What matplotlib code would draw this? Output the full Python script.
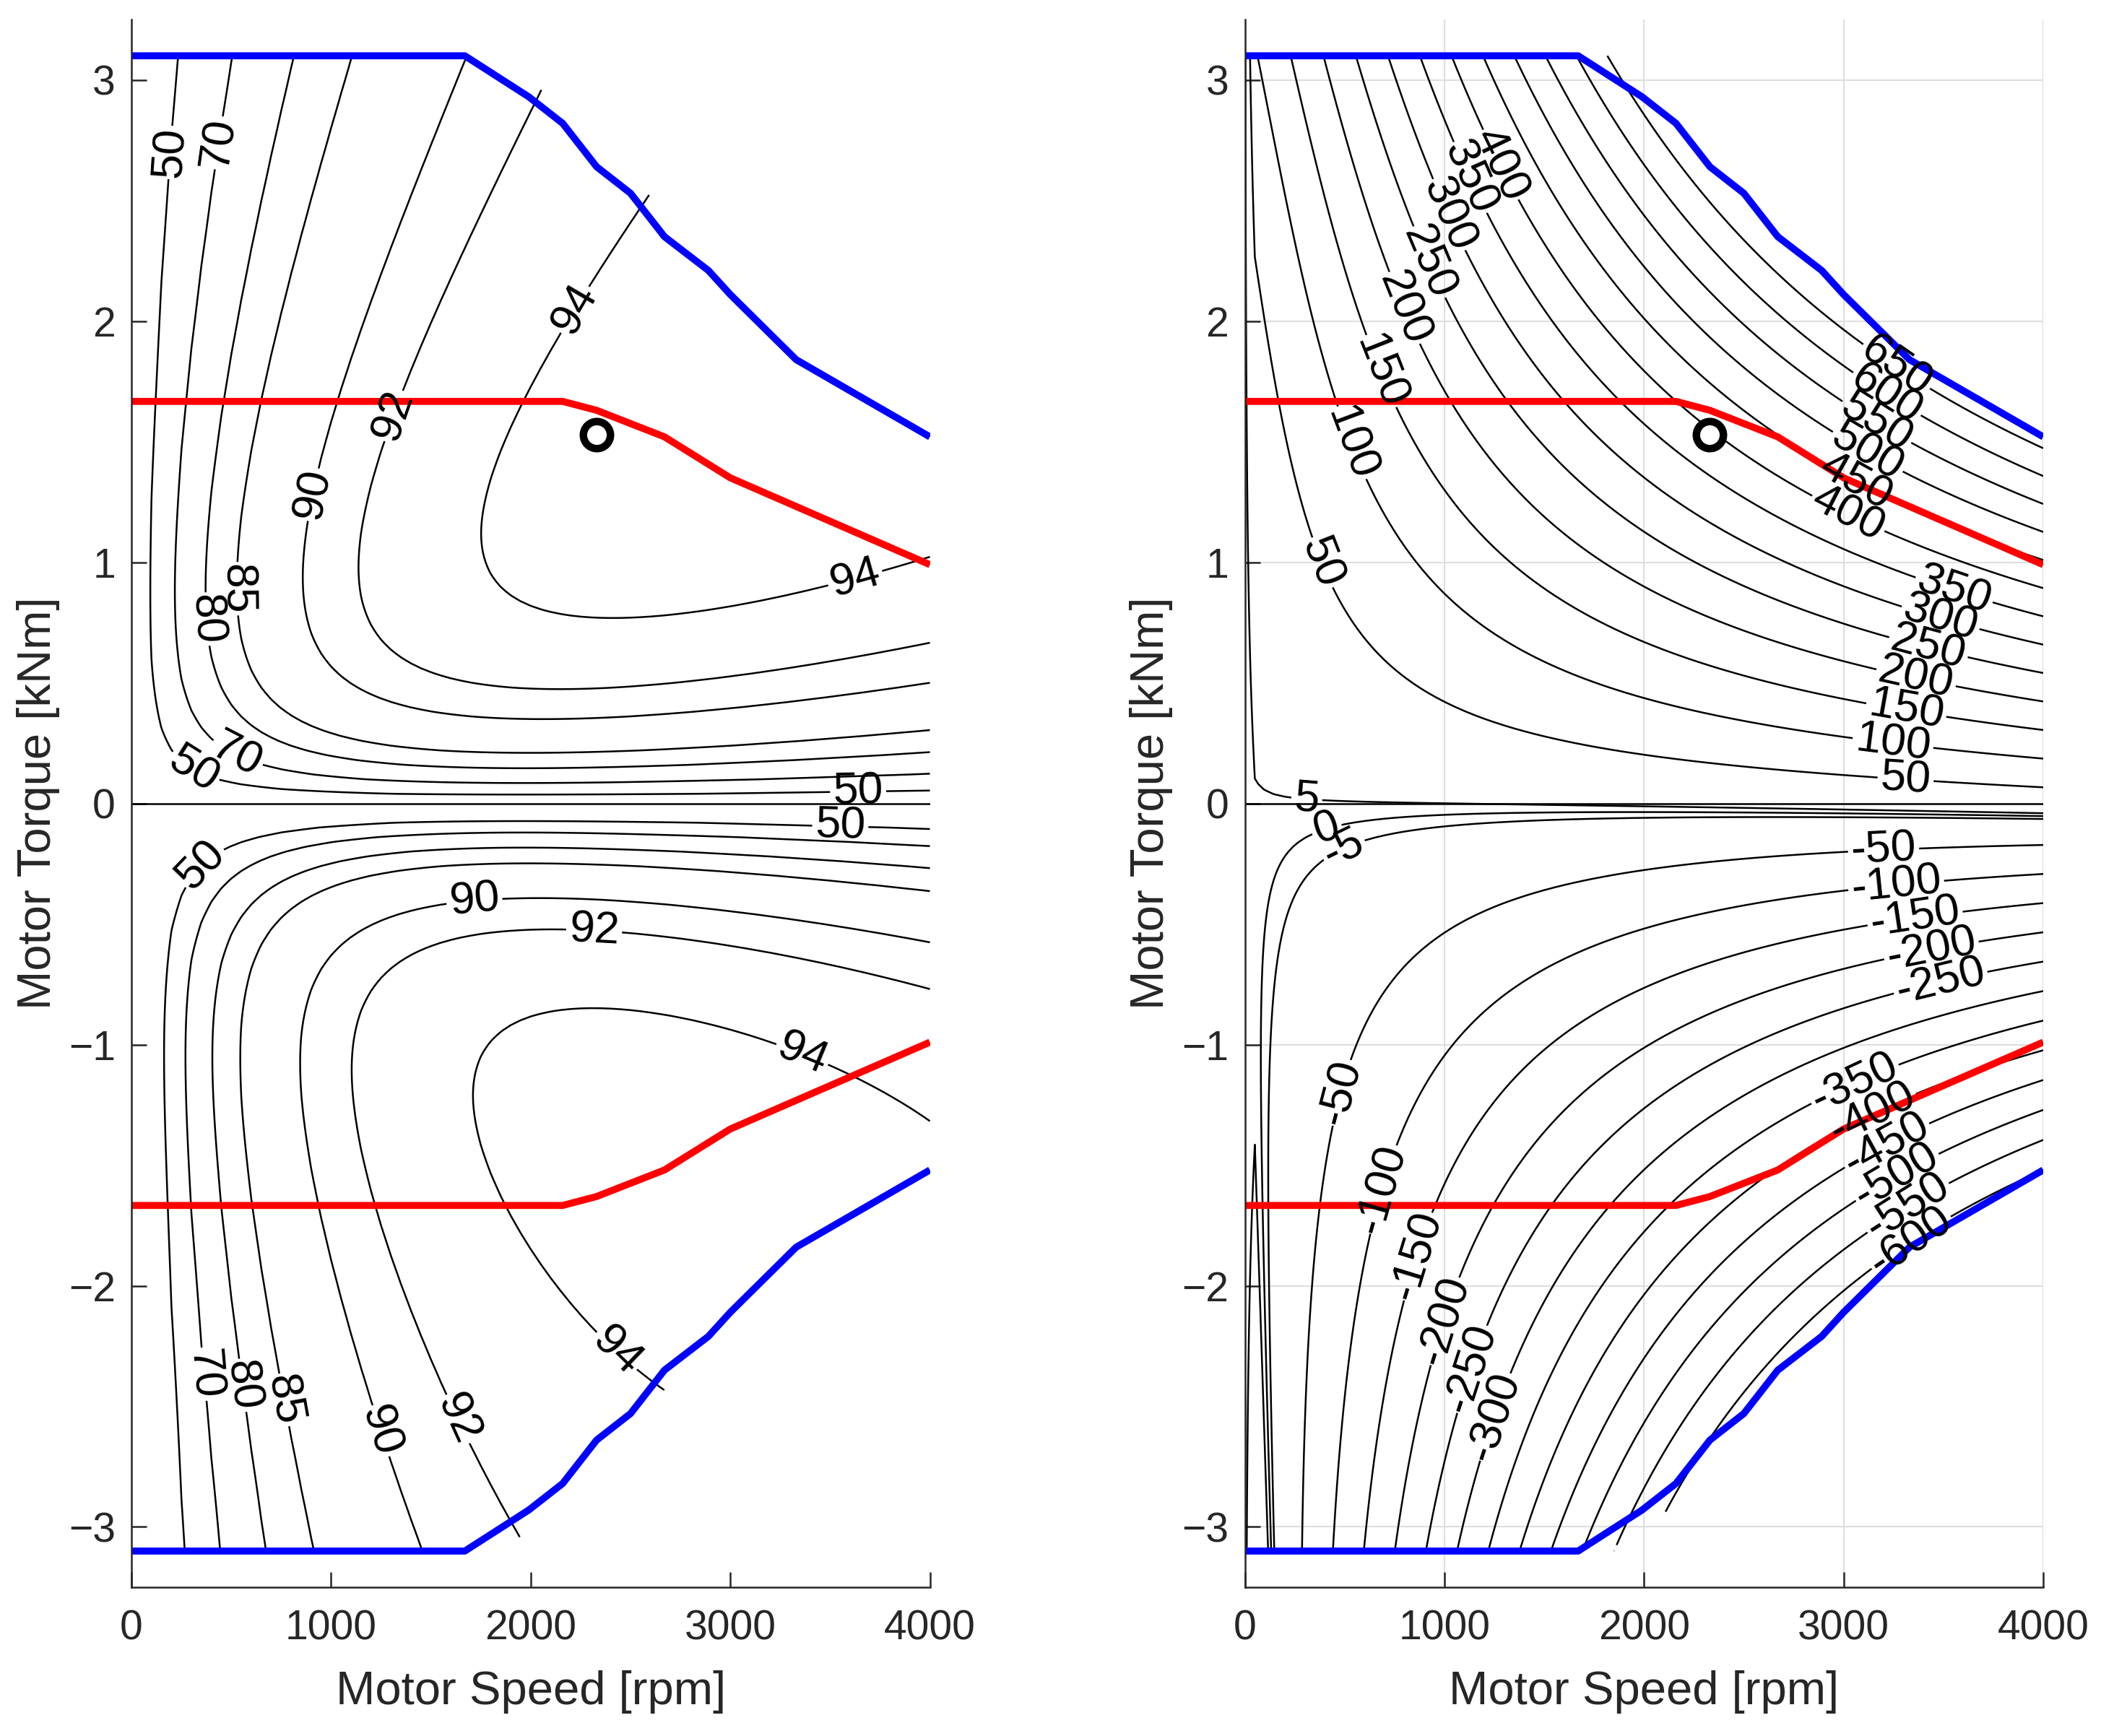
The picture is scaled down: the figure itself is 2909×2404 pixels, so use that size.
import numpy as np
import matplotlib
matplotlib.use("Agg")
import matplotlib.pyplot as plt

plt.rcParams['font.family'] = ['Liberation Sans', 'DejaVu Sans']

# Max torque envelope (blue), motoring side; generating side is mirrored
max_speed = [0, 1670, 1990, 2160, 2330, 2500, 2670, 2890, 3000, 3330, 4000]
max_torque = [3.10, 3.10, 2.93, 2.82, 2.64, 2.53, 2.35, 2.21, 2.11, 1.84, 1.52]

# Rated torque curve (red)
rated_speed = [0, 2160, 2330, 2670, 3000, 4000]
rated_torque = [1.667, 1.667, 1.63, 1.52, 1.35, 0.99]

# Operating point
op_speed = 2330
op_torque = 1.53

# Loss model (kW, torque in kNm, speed in krpm)
iron_const = 4.4      # speed independent loss
iron_coef = 0.55      # times krpm^2.5
cu_mot = 5.1          # per kNm^2, motoring
cu_mot4 = 0.3         # per kNm^4 at standstill, fades with speed
cu_gen = 4.0          # per kNm^2, generating
cu_gen_speed = 0.15   # per kNm^2 per krpm^2, generating

eff_levels = [50, 70, 80, 85, 90, 92, 94]
pow_levels = [-600, -550, -500, -450, -400, -350, -300, -250, -200, -150, -100, -50,
              -5, 0, 5, 50, 100, 150, 200, 250, 300, 350, 400, 450, 500, 550, 600, 650]

# contour label placement (speed, torque)
eff_label_pos = {
    50: [(178, 2.70), (293, 0.114), (3640, 0.063), (3550, -0.123), (293, -0.216)],
    70: [(427, 2.74), (499, 0.153), (459, -2.36)],
    80: [(287, 0.76), (677, -2.40)],
    85: [(490, 0.89), (927, -2.45)],
    90: [(911, 1.28), (1722, -0.44), (1426, -2.56)],
    92: [(1301, 1.61), (2315, -0.56), (1785, -2.50)],
    94: [(2237, 2.04), (3641, 0.89), (3438, -0.89), (2580, -2.15)],
}
pow_label_pos = {
    650: [(3290, 1.84)], 600: [(3244, 1.73)], 550: [(3197, 1.62)],
    500: [(3160, 1.51)], 450: [(3110, 1.40)],
    400: [(1286, 2.65), (3080, 1.29)],
    350: [(1114, 2.59), (3560, 0.90)],
    300: [(1020, 2.44), (3482, 0.76)],
    250: [(910, 2.24), (3419, 0.63)],
    200: [(753, 2.04), (3357, 0.50)],
    150: [(643, 1.78), (3310, 0.37)],
    100: [(518, 1.49), (3247, 0.25)],
    50: [(376, 0.995), (3310, 0.095)],
    5: [(314, 0.06)], 0: [(380, -0.03)], -5: [(470, -0.15)],
    -50: [(486, -1.2), (3200, -0.19)],
    -100: [(690, -1.6), (3262, -0.33)],
    -150: [(831, -1.87), (3357, -0.47)],
    -200: [(972, -2.14), (3435, -0.59)],
    -250: [(1114, -2.34), (3482, -0.73)],
    -300: [(1239, -2.54)],
    -350: [(3043, -1.14)], -400: [(3121, -1.25)], -450: [(3184, -1.37)],
    -500: [(3231, -1.50)], -550: [(3278, -1.62)], -600: [(3294, -1.77)],
}

# map grid
speed = np.arange(0, 4001, 50)
torque = np.linspace(-3.1, 3.1, 311)
N, T = np.meshgrid(speed, torque)
k = N / 1000.0
p_mech = T * N * np.pi / 30.0
cu_loss = np.where(T >= 0,
                   cu_mot * T**2 + cu_mot4 * np.exp(-k) * T**4,
                   (cu_gen + cu_gen_speed * k**2) * T**2)
loss = iron_const + iron_coef * k**2.5 + cu_loss
p_elec = p_mech + loss
with np.errstate(divide='ignore', invalid='ignore'):
    eff = np.where(T > 0, 100 * p_mech / p_elec, 100 * p_elec / p_mech)
eff[(T == 0) | (N == 0)] = 0
p_elec[N == 0] = 0

limit = np.minimum(np.interp(N, max_speed, max_torque) + 0.1, 3.1)
outside = np.abs(T) > limit + 1e-9
eff = np.ma.array(eff, mask=outside)
p_elec = np.ma.array(p_elec, mask=outside)

GRAY = '#262626'
fig = plt.figure(figsize=(29.09, 24.04), dpi=100)
ax1 = fig.add_axes([0.0626, 0.0857, 0.380, 0.903])
ax2 = fig.add_axes([0.5925, 0.0857, 0.380, 0.903])


def draw_panel(ax, field, levels, label_pos, grid):
    # one contour set per level so each label lands on its own line
    for lvl in levels:
        cs = ax.contour(N, T, field, levels=[lvl], colors='k',
                        linewidths=1.8, linestyles='solid')
        if lvl in label_pos:
            ax.clabel(cs, manual=label_pos[lvl], fmt='%d', fontsize=45,
                      inline=True, inline_spacing=4)
    ax.axhline(0, color='k', lw=1.8)
    speeds = np.array(max_speed)
    ax.plot(speeds, max_torque, color='#0000ff', lw=7, solid_capstyle='butt')
    ax.plot(speeds, -np.array(max_torque), color='#0000ff', lw=7, solid_capstyle='butt')
    ax.plot(rated_speed, rated_torque, color='#ff0000', lw=7, solid_capstyle='butt')
    ax.plot(rated_speed, -np.array(rated_torque), color='#ff0000', lw=7, solid_capstyle='butt')
    ax.plot(op_speed, op_torque, 'o', ms=27, mfc='white', mec='k', mew=7.5)
    ax.set_xlim(0, 4000)
    ax.set_ylim(-3.25, 3.25)
    ax.set_xticks([0, 1000, 2000, 3000, 4000])
    ax.set_yticks([-3, -2, -1, 0, 1, 2, 3])
    ax.set_yticklabels(['\u22123', '\u22122', '\u22121', '0', '1', '2', '3'])
    ax.tick_params(direction='in', length=15, width=1.8, colors=GRAY,
                   labelsize=41, top=False, right=False)
    ax.tick_params(axis='x', pad=22)
    ax.tick_params(axis='y', pad=16)
    for side in ['top', 'right']:
        ax.spines[side].set_visible(False)
    for side in ['left', 'bottom']:
        ax.spines[side].set_color(GRAY)
        ax.spines[side].set_linewidth(1.8)
    ax.set_xlabel('Motor Speed [rpm]', fontsize=47, color=GRAY)
    ax.set_ylabel('Motor Torque [kNm]', fontsize=47, color=GRAY)
    ax.xaxis.set_label_coords(0.5, -0.053)
    ax.yaxis.set_label_coords(-0.09, 0.5)
    if grid:
        ax.grid(True, color='#dedede', lw=1.5)
        ax.set_axisbelow(True)


draw_panel(ax1, eff, eff_levels, eff_label_pos, grid=False)
draw_panel(ax2, p_elec, pow_levels, pow_label_pos, grid=True)

fig.savefig('out.png', dpi=100)
